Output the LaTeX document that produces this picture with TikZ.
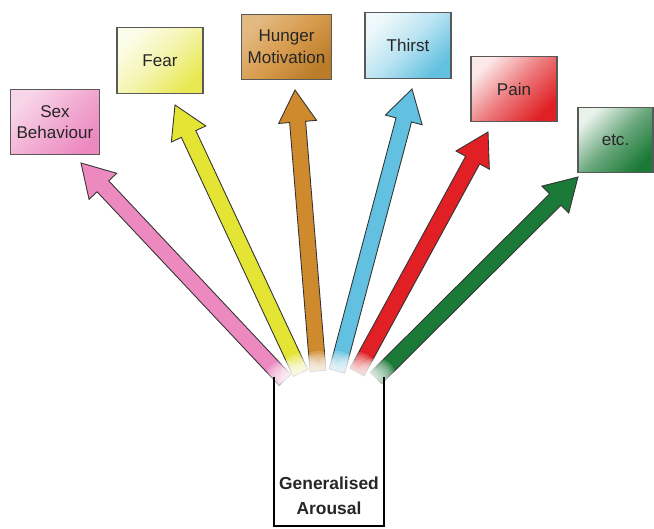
\documentclass[tikz,border=0pt]{standalone}
\usepackage{fontspec}
\setmainfont{Liberation Sans}
\usetikzlibrary{calc,positioning}

\definecolor{sexpink}{RGB}{236,138,192}
\definecolor{fearyellow}{RGB}{228,228,52}
\definecolor{hungerorange}{RGB}{208,138,46}
\definecolor{thirstblue}{RGB}{98,192,224}
\definecolor{painred}{RGB}{224,32,36}
\definecolor{etcgreen}{RGB}{28,122,56}

\tikzset{
  drivebox/.style n args={3}{rectangle, draw=black!65, line width=0.6pt,
    minimum width=1.72cm, minimum height=1.31cm, align=center, text=black!85,
    font=\fontsize{9.7}{12.3}\selectfont, top color=#1, bottom color=#3, middle color=#2, shading angle=45},
}

% fat arrow: colour, base, tip
\newcommand{\fatarrow}[3]{%
  \coordinate (hb) at ($(#3)!0.64cm!(#2)$);
  \filldraw[fill=#1, draw=black!80, line width=0.5pt]
    ($(#2)!0.16cm!90:(#3)$) -- ($(hb)!0.16cm!90:(#3)$) -- ($(hb)!0.38cm!90:(#3)$) -- (#3)
    -- ($(hb)!0.38cm!-90:(#3)$) -- ($(hb)!0.16cm!-90:(#3)$) -- ($(#2)!0.16cm!-90:(#3)$) -- cycle;
}

\begin{document}
\begin{tikzpicture}
\useasboundingbox (0,0) rectangle (13.08,10.56);

\node[drivebox={sexpink!35}{sexpink!70}{sexpink}] (sex) at (1.10,8.12) {Sex\\Behaviour};
\node[drivebox={fearyellow!10}{fearyellow!40}{fearyellow!85}] (fear) at (3.20,9.35) {Fear};
\node[drivebox={hungerorange!60}{hungerorange!85}{hungerorange!90!black}] (hunger) at (5.73,9.62) {Hunger\\Motivation};
\node[drivebox={thirstblue!10}{thirstblue!45}{thirstblue}] (thirst) at (8.16,9.65) {Thirst};
\node[drivebox={painred!10}{painred!60}{painred}] (pain) at (10.28,8.78) {Pain};
\node[drivebox={etcgreen!10}{etcgreen!65}{etcgreen}, minimum width=1.5cm] (etc) at (12.31,7.76) {etc.};

\node[rectangle, minimum width=2.2cm, minimum height=2.98cm, inner sep=0pt] (arousal) at (6.58,1.53) {};

\coordinate (s0) at (5.70,2.96);  \coordinate (s1) at (1.62,7.30);
\coordinate (f0) at (6.01,3.10);  \coordinate (f1) at (3.50,8.46);
\coordinate (h0) at (6.36,3.14);  \coordinate (h1) at (5.90,8.76);
\coordinate (t0) at (6.74,3.14);  \coordinate (t1) at (8.24,8.78);
\coordinate (p0) at (7.14,3.12);  \coordinate (p1) at (9.76,7.92);
\coordinate (e0) at (7.52,3.00);  \coordinate (e1) at (11.56,7.02);

\fatarrow{sexpink}{s0}{s1}
\fatarrow{fearyellow}{f0}{f1}
\fatarrow{hungerorange}{h0}{h1}
\fatarrow{thirstblue}{t0}{t1}
\fatarrow{painred}{p0}{p1}
\fatarrow{etcgreen}{e0}{e1}

% soft ends
\foreach \b in {s0,f0,h0,t0,p0,e0}
  \foreach \r in {0.40,0.35,...,0.05}
    \fill[white, opacity=0.18] (\b) circle (\r);

\draw[line width=1.2pt] (arousal.north west) -- (arousal.south west) -- (arousal.south east) -- (arousal.north east);
\node[font=\bfseries\fontsize{9.9}{14.6}\selectfont, align=center, text=black!85, above=0.1cm of arousal.south] (arousallabel) {Generalised\\Arousal};
\end{tikzpicture}
\end{document}
